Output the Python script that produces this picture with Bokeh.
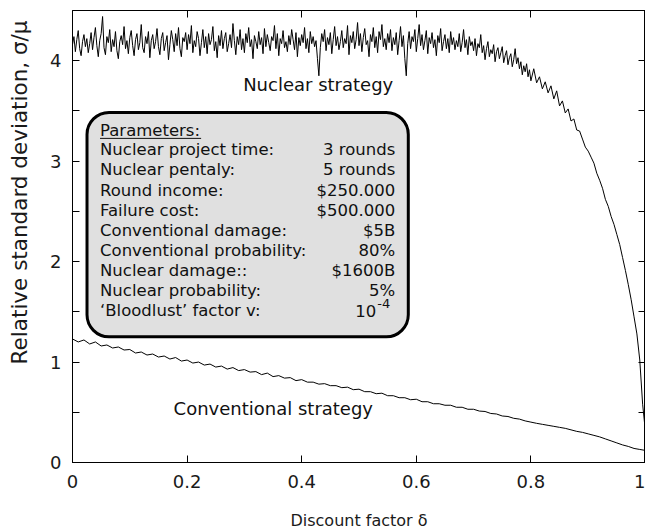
from bokeh.plotting import figure
from bokeh.models import (LinearAxis, Label, BoxAnnotation, Range1d, FixedTicker, Title,
                          NumeralTickFormatter, CustomJSTickFormatter, ColumnDataSource)
from bokeh.embed import file_html
from bokeh.resources import INLINE

# ---------------- data ----------------
nuclear_delta = ([round(i * 0.0025, 4) for i in range(320)] +
                 [round(0.8 + i * 0.005, 4) for i in range(41)])
nuclear_sigma = [
    4.16, 4.24, 4.09, 4.21, 4.30, 4.12, 4.05, 4.19, 4.26, 4.14,
    4.22, 4.08, 4.17, 4.28, 4.11, 4.23, 4.33, 4.15, 4.04, 4.20,
    4.27, 4.44, 4.13, 4.06, 4.24, 4.18, 4.31, 4.09, 4.21, 4.14,
    4.29, 4.10, 4.02, 4.19, 4.25, 4.16, 4.34, 4.12, 4.20, 4.07,
    4.23, 4.30, 4.15, 4.05, 4.21, 4.27, 4.11, 4.18, 4.36, 4.13,
    4.08, 4.24, 4.17, 4.29, 4.03, 4.20, 4.26, 4.12, 4.19, 4.32,
    4.14, 4.06, 4.22, 4.28, 4.10, 4.18, 4.25, 4.01, 4.16, 4.30,
    4.21, 4.09, 4.27, 4.15, 4.33, 4.12, 4.04, 4.23, 4.19, 4.28,
    4.11, 4.26, 4.17, 4.35, 4.08, 4.20, 4.14, 4.29, 4.22, 4.05,
    4.18, 4.31, 4.13, 4.24, 4.07, 4.27, 4.16, 4.21, 4.34, 4.10,
    4.19, 4.03, 4.25, 4.15, 4.30, 4.12, 4.22, 4.28, 4.09, 4.17,
    4.26, 4.13, 4.37, 4.20, 4.06, 4.24, 4.16, 4.31, 4.11, 4.22,
    4.08, 4.27, 4.18, 4.33, 4.14, 4.21, 4.02, 4.25, 4.19, 4.12,
    4.29, 4.16, 4.23, 4.07, 4.32, 4.14, 4.26, 4.18, 4.10, 4.24,
    4.20, 4.35, 4.12, 4.27, 4.05, 4.22, 4.17, 4.30, 4.13, 4.19,
    4.09, 4.25, 4.16, 4.31, 4.21, 4.11, 4.28, 4.04, 4.23, 4.15,
    4.26, 4.18, 4.33, 4.12, 4.22, 4.08, 4.29, 4.17, 4.24, 4.14,
    4.20, 4.02, 3.85, 4.13, 4.27, 4.19, 4.31, 4.10, 4.23, 4.16,
    4.28, 4.07, 4.21, 4.34, 4.15, 4.24, 4.11, 4.19, 4.30, 4.13,
    4.22, 4.17, 4.35, 4.06, 4.25, 4.18, 4.29, 4.12, 4.21, 4.38,
    4.15, 4.27, 4.09, 4.23, 4.32, 4.16, 4.20, 4.04, 4.26, 4.19,
    4.33, 4.13, 4.24, 4.08, 4.29, 4.21, 4.36, 4.14, 4.22, 4.11,
    4.27, 4.18, 4.31, 4.10, 4.23, 4.16, 4.28, 4.06, 4.20, 4.34,
    4.14, 4.25, 4.02, 3.85, 4.17, 4.29, 4.12, 4.24, 4.19, 4.31,
    4.09, 4.22, 4.36, 4.15, 4.26, 4.11, 4.20, 4.30, 4.07, 4.23,
    4.17, 4.28, 4.13, 4.21, 4.05, 4.25, 4.18, 4.32, 4.10, 4.19,
    4.26, 4.12, 4.22, 4.08, 4.29, 4.16, 4.23, 4.11, 4.20, 4.14,
    4.27, 4.09, 4.18, 4.31, 4.13, 4.21, 4.06, 4.24, 4.15, 4.19,
    4.10, 4.22, 4.05, 4.17, 4.13, 4.26, 4.08, 4.15, 4.01, 4.12,
    4.19, 4.04, 4.11, 4.07, 4.16, 3.99, 4.09, 4.13, 4.02, 4.08,
    4.14, 3.98, 4.05, 4.10, 3.96, 4.03, 4.07, 3.94, 4.01, 4.12,
    3.97, 4.03, 3.92, 3.99, 3.86, 3.95, 3.89, 3.97, 3.84, 3.91,
    3.80, 3.92, 3.78, 3.84, 3.72, 3.79, 3.68, 3.75, 3.62, 3.70,
    3.55, 3.60, 3.48, 3.52, 3.40, 3.42, 3.31, 3.30, 3.22, 3.14,
    3.10, 3.04, 2.98, 2.88, 2.81, 2.73, 2.62, 2.55, 2.45, 2.37,
    2.27, 2.17, 2.04, 1.91, 1.77, 1.62, 1.45, 1.28, 1.02, 0.58, 0.30,
]

conventional_delta = [round(i * 0.01, 2) for i in range(101)]
conventional_sigma = [
    1.23, 1.20, 1.22, 1.18, 1.20, 1.16, 1.17, 1.14, 1.15, 1.12,
    1.125, 1.09, 1.10, 1.07, 1.08, 1.05, 1.06, 1.03, 1.045, 1.01,
    1.02, 0.99, 1.00, 0.97, 0.98, 0.95, 0.96, 0.93, 0.945, 0.915,
    0.925, 0.90, 0.905, 0.875, 0.89, 0.855, 0.865, 0.84, 0.845, 0.815,
    0.825, 0.80, 0.80, 0.78, 0.785, 0.765, 0.765, 0.745, 0.75, 0.725,
    0.73, 0.705, 0.705, 0.685, 0.69, 0.665, 0.665, 0.645, 0.645, 0.625,
    0.63, 0.605, 0.605, 0.585, 0.585, 0.57, 0.57, 0.55, 0.55, 0.53,
    0.53, 0.512, 0.508, 0.488, 0.483, 0.463, 0.458, 0.44, 0.432, 0.414,
    0.402, 0.39, 0.38, 0.37, 0.36, 0.35, 0.34, 0.325, 0.31, 0.30,
    0.285, 0.27, 0.255, 0.235, 0.215, 0.195, 0.175, 0.16, 0.14, 0.13,
    0.12,
]

x_ticks = [0, 0.2, 0.4, 0.6, 0.8, 1.0]
y_ticks = [0, 1, 2, 3, 4]
y_minor = [0.5, 1.5, 2.5, 3.5]

param_names = [
    "Nuclear project time:", "Nuclear pentaly:", "Round income:", "Failure cost:",
    "Conventional damage:", "Conventional probability:", "Nuclear damage::",
    "Nuclear probability:", "\u2018Bloodlust\u2019 factor v:",
]
param_values = ["3 rounds", "5 rounds", "$250.000", "$500.000", "$5B", "80%",
                "$1600B", "5%", None]

FONT = "DejaVu Sans"
INK = "#111111"

# ---------------- figure ----------------
p = figure(width=645, height=532, x_range=Range1d(0, 1), y_range=Range1d(0, 4.5),
           output_backend="svg", toolbar_location=None,
           min_border_left=72, min_border_right=0, min_border_top=10, min_border_bottom=70)
p.grid.visible = False
p.outline_line_color = "black"
p.outline_line_width = 1

xa = p.xaxis[0]
xa.ticker = FixedTicker(ticks=x_ticks)
xa.formatter = NumeralTickFormatter(format="0.[0]")
xa.major_tick_in = 7
xa.major_tick_out = 0
xa.minor_tick_line_color = None
xa.major_label_standoff = 12
xa.major_label_text_font = FONT
xa.major_label_text_font_size = "18px"
xa.major_label_text_color = "#1a1a1a"
xa.axis_label = "Discount factor \u03b4"
xa.axis_label_text_font = FONT
xa.axis_label_text_font_size = "16px"
xa.axis_label_text_font_style = "normal"
xa.axis_label_text_color = "#1a1a1a"
xa.axis_label_standoff = 20
xa.axis_line_color = "black"

ya = p.yaxis[0]
ya.ticker = FixedTicker(ticks=y_ticks, minor_ticks=y_minor)
ya.major_tick_in = 7
ya.major_tick_out = 0
ya.minor_tick_in = 7
ya.minor_tick_out = 0
ya.major_label_standoff = 11
ya.major_label_text_font = FONT
ya.major_label_text_font_size = "18px"
ya.major_label_text_color = "#1a1a1a"
ya.axis_line_color = "black"
# a blank axis label only reserves room, so the title below sits at the far left
ya.axis_label = " "
ya.axis_label_text_font_size = "9px"
ya.axis_label_standoff = 0

blank = CustomJSTickFormatter(code="return ''")
top = LinearAxis(ticker=FixedTicker(ticks=[0.2, 0.4, 0.6, 0.8]), formatter=blank,
                 major_label_standoff=0, major_tick_in=7, major_tick_out=0,
                 minor_tick_line_color=None, axis_line_color="black")
p.add_layout(top, "above")
right = LinearAxis(ticker=FixedTicker(ticks=y_ticks, minor_ticks=y_minor), formatter=blank,
                   major_label_standoff=0, major_tick_in=7, major_tick_out=0,
                   minor_tick_in=7, minor_tick_out=0, axis_line_color="black")
p.add_layout(right, "right")

ytitle = Title(text="Relative standard deviation, \u03c3/\u03bc", align="right", offset=10,
               text_font=FONT, text_font_size="21.5px", text_font_style="normal",
               text_color="#1a1a1a", standoff=6)
p.add_layout(ytitle, "left")

# ---------------- curves ----------------
src_n = ColumnDataSource(dict(x=nuclear_delta, y=nuclear_sigma))
src_c = ColumnDataSource(dict(x=conventional_delta, y=conventional_sigma))
p.line("x", "y", source=src_n, line_color="black", line_width=1)
p.line("x", "y", source=src_c, line_color="black", line_width=1)

# ---------------- annotations (positions given in picture pixels) ----------------
def px_x(ix):
    return (ix - 72.5) / 572.5

def px_y(iy):
    return (462.3 - iy) / 100.5

TEXT_DY = 6  # labels render a little low; lift them to the reference baselines

p.add_layout(Label(x=px_x(243), y=px_y(90 - TEXT_DY), text="Nuclear strategy",
                   text_align="left", text_baseline="alphabetic", text_font=FONT,
                   text_font_size="18px", text_color=INK))
p.add_layout(Label(x=px_x(173.5), y=px_y(414 - TEXT_DY), text="Conventional strategy",
                   text_align="left", text_baseline="alphabetic", text_font=FONT,
                   text_font_size="18px", text_color=INK))

box = BoxAnnotation(left=px_x(87), right=px_x(408), top=px_y(112), bottom=px_y(336.5),
                    fill_color="#e0e0e0", fill_alpha=1.0, line_color="black", line_alpha=1.0,
                    line_width=3, border_radius=22, level="underlay")
p.add_layout(box)

p.add_layout(Label(x=px_x(100), y=px_y(135.7 - TEXT_DY), text="Parameters:", text_align="left",
                   text_baseline="alphabetic", text_font=FONT, text_font_size="16.5px",
                   text_color=INK))
p.segment(x0=[px_x(100)], y0=[px_y(138)], x1=[px_x(201)], y1=[px_y(138)],
          line_color=INK, line_width=1)

for k, name in enumerate(param_names):
    base = 155.5 + 20.1 * k - TEXT_DY
    p.add_layout(Label(x=px_x(100), y=px_y(base), text=name, text_align="left",
                       text_baseline="alphabetic", text_font=FONT, text_font_size="16.5px",
                       text_color=INK))
    val = param_values[k]
    if val is not None:
        p.add_layout(Label(x=px_x(395), y=px_y(base), text=val, text_align="right",
                           text_baseline="alphabetic", text_font=FONT,
                           text_font_size="16.5px", text_color=INK))
    else:
        p.add_layout(Label(x=px_x(376), y=px_y(base), text="10", text_align="right",
                           text_baseline="alphabetic", text_font=FONT,
                           text_font_size="16.5px", text_color=INK))
        p.add_layout(Label(x=px_x(377), y=px_y(base - 7), text="-4", text_align="left",
                           text_baseline="alphabetic", text_font=FONT,
                           text_font_size="13px", text_color=INK))

open("out.html", "w").write(file_html(p, INLINE))
